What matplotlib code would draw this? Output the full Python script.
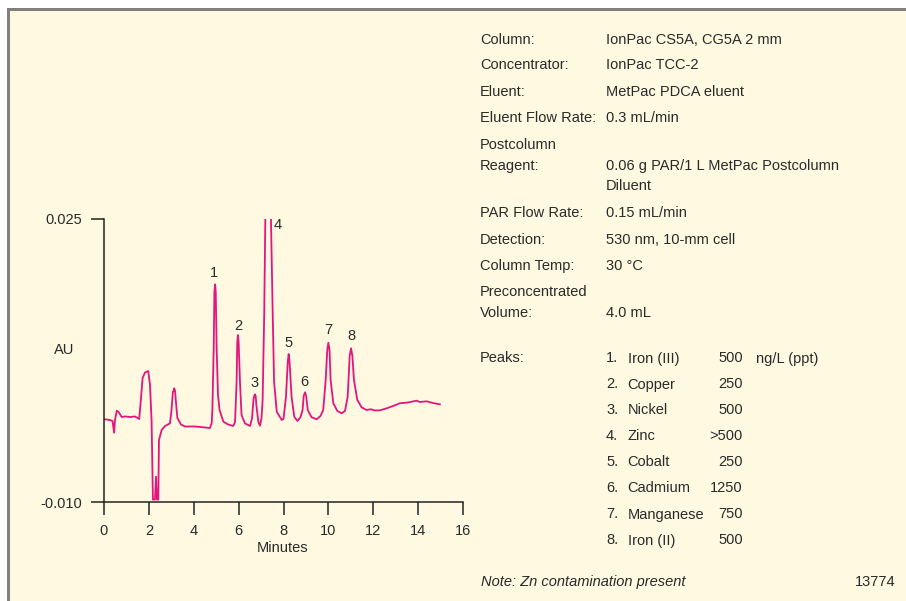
import matplotlib
matplotlib.use("Agg")
import matplotlib.pyplot as plt
from matplotlib import font_manager
from matplotlib.patches import Rectangle

# ---------------- data ----------------
time_min = [0.04, 0.27, 0.38, 0.45, 0.49, 0.57, 0.65, 0.79, 0.94, 1.16, 1.38, 1.57,
            1.65, 1.72, 1.83, 1.97, 2.05, 2.12, 2.18, 2.27, 2.32, 2.36, 2.42, 2.45,
            2.57, 2.72, 2.94, 3.01, 3.07, 3.10, 3.13, 3.17, 3.19, 3.27, 3.43, 3.61,
            4.06, 4.50, 4.72, 4.80, 4.83, 4.89, 4.92, 4.95, 4.98, 5.02, 5.08, 5.15,
            5.32, 5.53, 5.76, 5.84, 5.91, 5.94, 5.97, 6.00, 6.06, 6.13, 6.28, 6.51,
            6.60, 6.66, 6.69, 6.73, 6.76, 6.79, 6.88, 6.95, 7.02, 7.07, 7.14, 7.19,
            7.31, 7.44, 7.52, 7.58, 7.70, 7.92, 8.00, 8.11, 8.19, 8.23, 8.27, 8.36,
            8.48, 8.62, 8.76, 8.85, 8.90, 8.96, 9.01, 9.08, 9.25, 9.48, 9.65, 9.77,
            9.88, 9.95, 10.00, 10.05, 10.10, 10.22, 10.40, 10.59, 10.74, 10.86, 10.95,
            11.01, 11.07, 11.14, 11.29, 11.48, 11.71, 11.89, 12.08, 12.30, 12.60, 12.88,
            13.19, 13.55, 13.93, 14.08, 14.38, 14.66, 14.97]
signal_au = [0.00023, 0.00014, 0.00002, -0.00143, 0.00014, 0.00129, 0.00113, 0.00051,
             0.00058, 0.00051, 0.00058, 0.00027,
             0.00286, 0.00534, 0.00602, 0.00620, 0.00447, 0.00014, -0.00970, -0.00970,
             -0.00687, -0.00970, -0.00970, -0.00233,
             -0.00109, -0.00060, -0.00027, 0.00138, 0.00361, 0.00373, 0.00406, 0.00373,
             0.00286, 0.00039, -0.00041, -0.00066,
             -0.00066, -0.00078, -0.00085, -0.00023, 0.00138, 0.00905, 0.01598, 0.01692,
             0.01598, 0.00905, 0.00323, 0.00138,
             -0.00007, -0.00041, -0.00060, -0.00011, 0.00488, 0.00979, 0.01065, 0.00979,
             0.00488, 0.00076, -0.00027, -0.00060,
             0.00039, 0.00262, 0.00310, 0.00332, 0.00310, 0.00200, -0.00011, -0.00056,
             0.00039, 0.00262, 0.01313, 0.02512,
             0.03350, 0.02512, 0.01313, 0.00488, 0.00117, 0.00014, 0.00027, 0.00302,
             0.00732, 0.00830, 0.00732, 0.00302,
             0.00055, 0.00002, 0.00051, 0.00138, 0.00311, 0.00357, 0.00311, 0.00138,
             0.00048, 0.00023, 0.00064, 0.00138,
             0.00509, 0.00880, 0.00970, 0.00880, 0.00509, 0.00221, 0.00126, 0.00097,
             0.00126, 0.00302, 0.00806,
             0.00901, 0.00806, 0.00509, 0.00262, 0.00171, 0.00138, 0.00147, 0.00132,
             0.00134, 0.00159, 0.00187,
             0.00221, 0.00231, 0.00253, 0.00237, 0.00245, 0.00224, 0.00208]

peak_labels = ["1", "2", "3", "4", "5", "6", "7", "8"]
peak_label_time = [4.90, 5.97, 6.72, 7.72, 8.21, 8.93, 10.00, 11.04]
peak_label_au = [0.01836, 0.01180, 0.00468, 0.02426, 0.00970, 0.00488, 0.01127, 0.01053]

x_ticks = [0, 2, 4, 6, 8, 10, 12, 14, 16]
y_ticks = [-0.010, 0.025]
y_tick_labels = ["-0.010", "0.025"]

cond_labels = ["Column:", "Concentrator:", "Eluent:", "Eluent Flow Rate:", "Postcolumn",
               "Reagent:", "", "PAR Flow Rate:", "Detection:", "Column Temp:",
               "Preconcentrated", "Volume:"]
cond_values = ["IonPac CS5A, CG5A 2 mm", "IonPac TCC-2", "MetPac PDCA eluent", "0.3 mL/min",
               "", "0.06 g PAR/1 L MetPac Postcolumn", "Diluent", "0.15 mL/min",
               "530 nm, 10-mm cell", "30 °C", "", "4.0 mL"]

peak_numbers = ["1.", "2.", "3.", "4.", "5.", "6.", "7.", "8."]
peak_names = ["Iron (III)", "Copper", "Nickel", "Zinc", "Cobalt", "Cadmium", "Manganese", "Iron (II)"]
peak_amounts = ["500", "250", "500", ">500", "250", "1250", "750", "500"]
amount_unit = "ng/L (ppt)"
note_text = "Note: Zn contamination present"
fig_id = "13774"

# ---------------- styling ----------------
names = {f.name for f in font_manager.fontManager.ttflist}
if "Liberation Sans Narrow" in names:
    FONT, FS = "Liberation Sans Narrow", 12
else:
    FONT, FS = "Liberation Sans", 10.5
plt.rcParams["font.family"] = [FONT, "DejaVu Sans"]

W, H = 906, 601
BG = "#FFF9E1"
TXT = "#2a2a2a"
LINE = "#E3157F"
AX = "#222222"

fig = plt.figure(figsize=(W / 100, H / 100), dpi=100, facecolor="white")

def fx(px):
    return px / W

def fy(py):
    return 1 - py / H

# frame
fig.patches.append(Rectangle((fx(7), 0), 1, fy(8), transform=fig.transFigure,
                             facecolor="#808080", edgecolor="none", zorder=-10))
fig.patches.append(Rectangle((fx(9.5), 0), 1, fy(10.5), transform=fig.transFigure,
                             facecolor=BG, edgecolor="none", zorder=-9))

# axes
x0, x1, y0, y1 = 104, 463, 219, 502
ax = fig.add_axes([fx(x0), fy(y1), fx(x1) - fx(x0), fy(y0) - fy(y1)])
ax.set_facecolor("none")
ax.set_zorder(1)
ax.plot(time_min, signal_au, color=LINE, lw=1.3, solid_joinstyle="round")
ax.set_xlim(0, 16)
ax.set_ylim(-0.010, 0.025)
for s in ("top", "right"):
    ax.spines[s].set_visible(False)
for s in ("left", "bottom"):
    ax.spines[s].set_color(AX)
    ax.spines[s].set_linewidth(1.1)
ax.set_xticks(x_ticks)
ax.set_xticklabels([str(v) for v in x_ticks])
ax.set_yticks(y_ticks)
ax.set_yticklabels(y_tick_labels)
ax.tick_params(axis="x", direction="out", length=9.5, width=1.1, color=AX,
               labelsize=FS, labelcolor=TXT, pad=6)
ax.tick_params(axis="y", direction="out", length=9.5, width=1.1, color=AX,
               labelsize=FS, labelcolor=TXT, pad=6.5)

for lab, t, v in zip(peak_labels, peak_label_time, peak_label_au):
    ax.text(t, v, lab, ha="center", va="center", fontsize=FS, color=TXT, clip_on=False)

fig.text(fx(283), fy(548), "Minutes", ha="center", va="center", fontsize=FS, color=TXT)
fig.text(fx(64), fy(350), "AU", ha="center", va="center", fontsize=FS, color=TXT)

# conditions block
cond_y = [38.5, 63.5, 90, 116.5, 143, 164, 184.5, 211, 237.7, 264.3, 290, 311]
for lab, val, yy in zip(cond_labels, cond_values, cond_y):
    b = yy + 5.8
    if lab:
        fig.text(fx(480), fy(b), lab, ha="left", va="baseline", fontsize=FS, color=TXT)
    if val:
        fig.text(fx(606), fy(b), val, ha="left", va="baseline", fontsize=FS, color=TXT)

# peaks table
fig.text(fx(480), fy(356.7 + 5.8), "Peaks:", ha="left", va="baseline", fontsize=FS, color=TXT)
for i, (n, nm, am) in enumerate(zip(peak_numbers, peak_names, peak_amounts)):
    b = 356.7 + 26 * i + 5.8
    fig.text(fx(606), fy(b), n, ha="left", va="baseline", fontsize=FS, color=TXT)
    fig.text(fx(627.7), fy(b), nm, ha="left", va="baseline", fontsize=FS, color=TXT)
    fig.text(fx(742.7), fy(b), am, ha="right", va="baseline", fontsize=FS, color=TXT)
fig.text(fx(755.7), fy(356.7 + 5.8), amount_unit, ha="left", va="baseline", fontsize=FS, color=TXT)

fig.text(fx(481), fy(586), note_text, ha="left", va="baseline", fontsize=FS,
         color=TXT, style="italic")
fig.text(fx(896), fy(586), fig_id, ha="right", va="baseline", fontsize=FS, color=TXT)

fig.savefig("out.png", dpi=100, facecolor=fig.get_facecolor())
